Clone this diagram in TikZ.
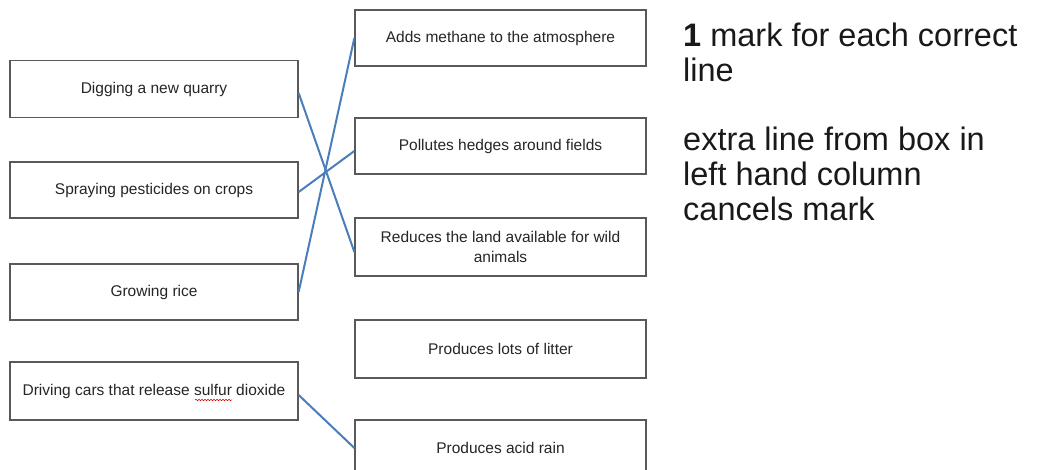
\documentclass[tikz,border=0pt]{standalone}
\usepackage{fontspec}
\setmainfont{Liberation Sans}
\usepackage{xcolor}
\usetikzlibrary{positioning,decorations.pathmorphing}

\definecolor{linkblue}{RGB}{74,126,187}
\definecolor{boxgrey}{RGB}{89,89,89}
\definecolor{inkgrey}{RGB}{38,38,38}

\tikzset{
    answerbox/.style={draw=boxgrey, line width=1.3pt, fill=white, minimum width=288pt, minimum height=57pt,
        inner sep=0pt, align=center, text=inkgrey, font=\fontsize{15.5}{20}\selectfont},
    link/.style={draw=linkblue, line width=2pt},
    note/.style={inner sep=0pt, anchor=north west, align=left, text=black!90, font=\fontsize{32.5}{35}\selectfont}
}

\begin{document}
\begin{tikzpicture}[x=1pt, y=-1pt]

        \useasboundingbox (0,0) rectangle (1037,470);

        % left column
        \node [answerbox] (quarry) at (154,89) {Digging a new quarry};
        \node [answerbox, minimum height=56pt] (pesticides) at (154,190) {Spraying pesticides on crops};
        \node [answerbox, minimum height=56pt] (rice) at (154,292) {Growing rice};
        \node [answerbox, minimum height=58pt] (cars) at (154,391) {Driving cars that release sulfur dioxide};

        % right column
        \node [answerbox, minimum width=291pt, minimum height=56pt] (methane) at (500.5,38) {Adds methane to the atmosphere};
        \node [answerbox, minimum width=291pt, minimum height=56pt] (hedges) at (500.5,146) {Pollutes hedges around fields};
        \node [answerbox, minimum width=291pt, minimum height=58pt] (land) at (500.5,247) {Reduces the land available for wild\\animals};
        \node [answerbox, minimum width=291pt, minimum height=58pt] (litter) at (500.5,349) {Produces lots of litter};
        \node [answerbox, minimum width=291pt, minimum height=56pt] (acidrain) at (500.5,448) {Produces acid rain};

        % spelling underline
        \draw [red!80!black, line width=0.5pt, decorate, decoration={snake, amplitude=0.8pt, segment length=3pt}] (195,400) -- (232,400);

        % marking notes
        \node [note] (marknote) at (683,23) {\textbf{1} mark for each correct\\line};
        \node [note] (extranote) at (683,127) {extra line from box in\\left hand column\\cancels mark};

        \draw [link] ([yshift=-4pt]quarry.east) -- ([yshift=-5pt]land.west);
        \draw [link] ([yshift=-2pt]pesticides.east) -- ([yshift=-5pt]hedges.west);
        \draw [link] (rice.east) -- (methane.west);
        \draw [link] ([yshift=-4pt]cars.east) -- (acidrain.west);

    \end{tikzpicture}
\end{document}
